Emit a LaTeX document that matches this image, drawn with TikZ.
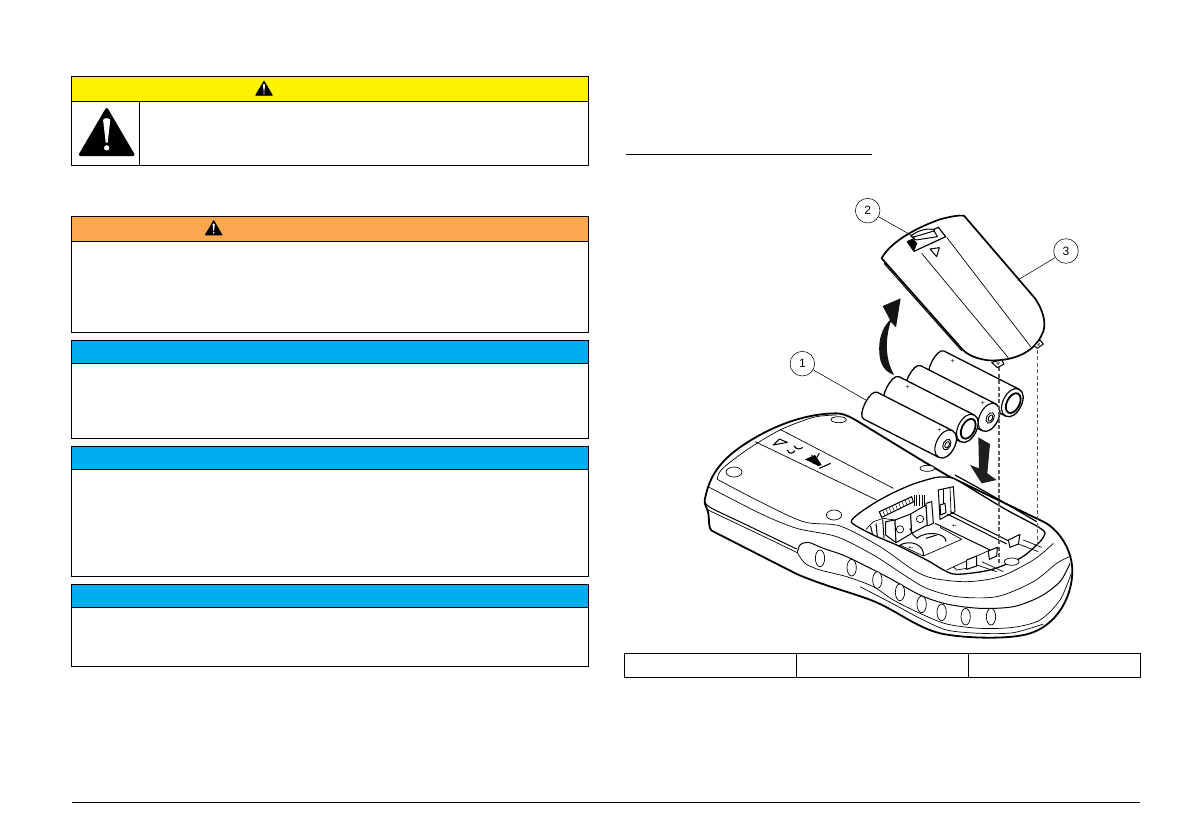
\documentclass[tikz,border=0pt]{standalone}
\usepackage{fontspec}
\usetikzlibrary{calc}
\setmainfont{Liberation Sans}
\definecolor{cauy}{HTML}{FFF200}
\definecolor{cauo}{HTML}{FAA74F}
\definecolor{caub}{HTML}{00AEEF}
\newcommand\warnicon[3]{%
  \begin{scope}[shift={(#1,#2)},x=#3pt,y=-#3pt]
    \fill[black,line join=round,draw=black,line width=.06*#3pt] (0,.03) -- (.55,.97) -- (-.55,.97) -- cycle;
    \fill[white] (-.075,.25) .. controls (-.075,.2) and (.075,.2) .. (.075,.25) -- (.02,.72) -- (-.02,.72) -- cycle;
    \fill[white] (0,.83) circle[radius=.055];
  \end{scope}}
\newcommand\cautionbox[5]{% top, header bottom, bottom, colour, name
  \fill[#4] (71.8,#1) rectangle (588.2,#2);
  \draw[boxline] (71.8,#1) rectangle (588.2,#3);
  \draw[boxline] (71.8,#2) -- (588.2,#2);}
% battery: x,y of the end cap centre, 1=nub 0=ring, plus position
\newcommand\batt[4]{%
  \begin{scope}[shift={(#1,#2)},rotate=-27]
    \draw[fill=white,line width=1.3pt] (-253,-45) -- (0,-45) .. controls (37,-45) and (37,45) .. (0,45) -- (-253,45) .. controls (-277,45) and (-277,-45) .. (-253,-45) -- cycle;
    \draw[line width=1.1pt] (0,-45) .. controls (-37,-45) and (-37,45) .. (0,45);
    \ifnum#3=1
      \draw[line width=.9pt] (4,0) ellipse[x radius=11,y radius=17];
      \draw[line width=.9pt] (5,0) ellipse[x radius=6,y radius=10];
    \else
      \draw[line width=1.8pt] (3,0) ellipse[x radius=19,y radius=32];
    \fi
    \node[inner sep=0pt,font=\fontsize{7}{7}\selectfont] at (#4,-28) {+};
  \end{scope}}
\tikzset{
  boxline/.style={black,line width=.9pt},
  callout/.style={circle,draw=black,line width=.55pt,minimum size=24.6pt,inner sep=0pt,font=\fontsize{12}{12}\selectfont,fill=white},
  leader/.style={black,line width=.55pt},
  body/.style={line width=1.8pt,line join=round},
  fine/.style={line width=.7pt,line join=round},
  mid/.style={line width=1pt,line join=round},
  guide/.style={line width=1.2pt,draw=black!65,dash pattern=on 4pt off 2.4pt},
  oval/.style={line width=.7pt,fill=white},
}
\begin{document}
\begin{tikzpicture}[x=1pt,y=-1pt]
\useasboundingbox (0,0) rectangle (1191,839);
\fill[white] (0,0) rectangle (1191,839);

% ---- yellow warning
\cautionbox{76.5}{101}{165}{cauy}{a}
\draw[boxline] (139.5,101) -- (139.5,165);
\warnicon{264}{80.7}{15}
\warnicon{106.7}{108}{48}
% ---- orange
\cautionbox{216.5}{241.3}{332.3}{cauo}{b}
\warnicon{213.7}{220.3}{15}
% ---- blue
\cautionbox{340.3}{363.3}{438.3}{caub}{c}
\cautionbox{446.3}{469.5}{576.3}{caub}{d}
\cautionbox{584.3}{607.2}{666.3}{caub}{e}

% ---- right column rules
\draw[line width=.9pt] (626,154.7) -- (872,154.7);
\draw[boxline] (624.7,653) rectangle (1140.7,677);
\draw[boxline] (796.5,653) -- (796.5,677);
\draw[boxline] (968.5,653) -- (968.5,677);
\draw[line width=.9pt] (72,802) -- (1140,802);

% ---- instrument (zoom coordinates)
\begin{scope}[shift={(680,400)},x=.33333pt,y=-.33333pt]
  \draw[body,fill=white] (74,300)
    .. controls (85,250) and (100,195) .. (190,135)
    .. controls (280,75) and (380,40) .. (470,40)
    .. controls (490,40) and (510,50) .. (530,62)
    -- (740,190)
    .. controls (780,212) and (800,228) .. (840,245)
    -- (1090,365)
    .. controls (1130,385) and (1175,440) .. (1177,510)
    .. controls (1178,590) and (1130,680) .. (1040,703)
    .. controls (980,718) and (860,715) .. (790,702)
    .. controls (720,688) and (660,640) .. (600,612)
    .. controls (540,583) and (450,565) .. (350,522)
    -- (95,392)
    .. controls (85,385) and (88,360) .. (85,340)
    .. controls (83,325) and (72,315) .. (74,300) -- cycle;
  % seam
  \draw[mid] plot[smooth,tension=.5] coordinates {(74,302)(90,322)(200,375)(350,447)};
  \draw[fine] plot[smooth,tension=.5] coordinates {(84,330)(200,385)(352,458)};
  % button band
  \draw[mid] plot[smooth,tension=.5] coordinates {(352,458)(360,435)(385,427)(430,445)(500,470)(620,530)(720,585)(800,612)(900,625)(1000,620)(1080,590)(1140,545)(1170,490)};
  \draw[fine] plot[smooth,tension=.5] coordinates {(352,458)(375,490)(420,510)(500,530)(580,560)(640,600)(720,640)(800,672)(900,685)(1000,682)(1080,660)(1140,600)(1174,520)};
  \draw[fine] plot[smooth,tension=.5] coordinates {(540,560)(640,612)(720,655)(800,690)(900,700)(1000,698)(1090,672)};
  % top panel lines
  \draw[fine] plot[smooth,tension=.5] coordinates {(88,262)(240,340)(350,385)(470,410)(580,465)(680,530)(740,565)(830,590)(950,590)(1060,545)(1130,490)(1168,470)};
  \draw[fine] plot[smooth,tension=.5] coordinates {(112,238)(230,300)(370,365)(480,378)(600,440)(700,510)(760,535)(860,545)(960,530)(1060,480)(1120,430)};
  \draw[fine] plot[smooth,tension=.5] coordinates {(112,238)(125,208)(200,150)(300,90)(400,52)(470,45)};
  \draw[fine] (225,125) -- (590,300);
  \draw[fine] (300,88) -- (640,265);
  % ovals on the panel
  \draw[oval] (162,216) ellipse[x radius=24,y radius=15];
  \draw[oval] (476,59) ellipse[x radius=23,y radius=9];
  \draw[oval] (742,205) ellipse[x radius=22,y radius=9];
  \draw[oval] (462,345) ellipse[x radius=23,y radius=15];
  % label symbols
  \draw[mid] (280,135) -- (322,127) -- (298,117) -- cycle;
  \draw[line width=1.1pt] (322,150) .. controls (328,165) and (340,160) .. (345,152);
  \draw[line width=1.1pt] (342,138) .. controls (350,150) and (362,148) .. (368,142);
  \fill[black] (375,178) -- (405,165) -- (425,195) -- (415,198) -- cycle;
  \draw[mid] (395,165) -- (415,198);
  \draw[mid] (400,190) -- (418,160);
  \draw[line width=1.1pt] (418,205) -- (452,190);
  % side buttons
  \foreach \bx/\by in {420/475,515/503,592/540,660/577,725/613,785/637,857/650,933/650}
    \draw[oval] (\bx,\by) ellipse[x radius=14,y radius=25];
  % battery compartment, in the coordinates of its own crop
  \begin{scope}[shift={(480,210)}]
    \draw[line width=1.3pt,fill=white,line join=round] plot[smooth cycle,tension=.4] coordinates {(34,157)(60,128)(110,95)(160,68)(220,42)(290,22)(340,25)(420,72)(500,120)(590,168)(615,188)(600,215)(545,262)(450,300)(340,312)(260,270)(170,225)(100,195)};
    % upper double edge
    \draw[line width=1.2pt] plot[smooth,tension=.4] coordinates {(345,15)(430,62)(510,108)(590,155)};
    % back walls
    \draw[fine] (78,178) -- (100,155) -- (130,145) -- (165,150);
    \draw[mid] (92,168) -- (98,195);
    \draw[mid] (108,160) -- (112,200);
    \draw[mid] (128,148) -- (132,205);
    % ribbon
    \draw[mid,fill=white] (118,125) -- (215,80) -- (220,96) -- (125,142) -- cycle;
    \foreach \t in {0,.1,...,1} \draw[line width=.45pt] ($(118,125)!\t!(215,80)$) -- ($(125,142)!\t!(220,96)$);
    \foreach \hx in {222,230,238,246,254} \draw[line width=.7pt] (\hx,76) -- (\hx,108);
    % contact plates
    \draw[mid,fill=white] (137,155) -- (165,150) -- (168,218) -- (137,195) -- cycle;
    \draw[mid,fill=white] (165,150) -- (212,132) -- (215,190) -- (168,218) -- cycle;
    \draw[fine] (180,178) circle[radius=11];
    \draw[mid,fill=white] (212,132) -- (258,105) -- (262,165) -- (215,190) -- cycle;
    \draw[fine] (240,147) circle[radius=11];
    \draw[mid,fill=white] (258,100) -- (275,95) -- (280,160) -- (262,168) -- cycle;
    % right wall
    \draw[mid,fill=white] (295,60) -- (340,50) -- (345,125) -- (300,148) -- cycle;
    \draw[mid] (300,105) -- (315,100) -- (318,128) -- (302,135) -- cycle;
    \draw[fine] (310,58) -- (310,102);
    \draw[fine] (330,52) -- (333,125);
    % floor and ledges
    \draw[mid] (330,125) -- (510,215);
    \draw[mid] (322,132) -- (500,222);
    \draw[mid] (285,160) -- (450,240);
    \draw[fine] (300,172) -- (365,208) -- (250,258) -- (180,225);
    \draw[fine] (320,300) -- (450,240);
    % battery seats
    \draw[mid] (175,228) .. controls (210,205) and (255,225) .. (250,258);
    \draw[mid] (230,205) .. controls (260,180) and (320,190) .. (318,215);
    \draw[mid] (210,175) .. controls (215,195) and (225,200) .. (232,205);
    \node[inner sep=0pt,font=\fontsize{5}{5}\selectfont\bfseries] at (213,233) {+-};
    \node[inner sep=0pt,font=\fontsize{5}{5}\selectfont\bfseries] at (343,168) {+-};
    \draw[mid] (258,205) -- (290,195);
    % clips
    \draw[mid,fill=white] (505,210) -- (540,193) -- (535,222) -- (510,232) -- cycle;
    \draw[mid,fill=white] (445,243) -- (472,232) -- (470,258) -- (448,268) -- cycle;
    \draw[mid,fill=white] (380,270) -- (410,258) -- (410,288) -- (380,298) -- cycle;
    \draw[fine] (340,290) -- (350,300) -- (380,295);
    \draw[fine] (410,285) -- (470,305);
    \draw[fine] (425,275) -- (490,305);
    \draw[fine] (535,222) -- (595,245);
    \draw[fine] (550,210) -- (605,232);
    \draw[oval] (515,275) ellipse[x radius=22,y radius=11];
  \end{scope}
  % down arrow
  \fill[black!88] (895,112) -- (930,132) -- (922,220) -- (950,240) -- (905,250) -- (870,195) -- (897,205) -- cycle;
\end{scope}

% ---- batteries, cover and callouts (zoom coordinates)
\begin{scope}[shift={(680,180)},x=.33333pt,y=-.33333pt]
  \batt{997}{668}{0}{-215}
  \batt{927}{712}{1}{-35}
  \batt{862}{745}{0}{-215}
  \batt{797}{792}{1}{-35}
  % guides
  \coordinate (g1s) at (957,562);
  \coordinate (g2s) at (1072,510);
  \draw[guide] (g1s) -- (957,1158);
  \draw[guide] (g2s) -- (1072,1105);
  % rising arrow
  \fill[black!92] (642,585) .. controls (615,575) and (600,555) .. (598,520) .. controls (595,480) and (605,445) .. (630,420) -- (608,378) -- (662,355) -- (648,442) -- (632,425) .. controls (618,470) and (612,530) .. (642,585) -- cycle;
  % cover
  \draw[line width=1.7pt,fill=white,line join=round] (605,235)
    .. controls (625,195) and (690,150) .. (780,118)
    .. controls (810,110) and (835,105) .. (852,107)
    -- (1065,355)
    .. controls (1095,400) and (1100,440) .. (1085,465)
    .. controls (1065,510) and (1010,545) .. (925,541)
    .. controls (880,535) and (855,520) .. (840,500)
    -- (605,235) -- cycle;
  \draw[mid] (612,250) -- (845,512);
  \draw[fine] (725,220) -- (985,533);
  \draw[fine] (800,172) -- (1052,500);
  \draw[line width=1.2pt,fill=white,line join=round] (682,185) -- (775,142) -- (797,170) -- (702,214) -- cycle;
  \fill[black] (682,185) -- (700,177) -- (712,190) -- (702,214) -- cycle;
  \draw[mid,fill=white] (692,168) .. controls (715,150) and (740,145) .. (760,148) -- (772,170) -- (708,180) -- cycle;
  \draw[mid] (698,172) -- (765,152);
  \draw[mid] (750,207) -- (778,203) -- (770,230) -- cycle;
  % hinge tabs
  \draw[mid,fill=white] (935,547) -- (965,540) -- (972,552) -- (952,563) -- cycle;
  \fill[black!60] (948,548) -- (960,546) -- (955,556) -- cycle;
  \draw[mid,fill=white] (1062,497) -- (1080,480) -- (1090,492) -- (1072,505) -- cycle;
  \fill[black!60] (1070,495) -- (1080,488) -- (1078,498) -- cycle;
  % callouts
  \node[callout] (n1) at (367,551) {1};
  \node[callout] (n2) at (563,92) {2};
  \node[callout] (n3) at (1158,213) {3};
  \coordinate (t1) at (561,662);
  \coordinate (t2) at (705,172);
  \coordinate (t3) at (1012,301);
  \draw[leader] (n1) -- (t1);
  \draw[leader] (n2) -- (t2);
  \draw[leader] (n3) -- (t3);
\end{scope}
\end{tikzpicture}
\end{document}
